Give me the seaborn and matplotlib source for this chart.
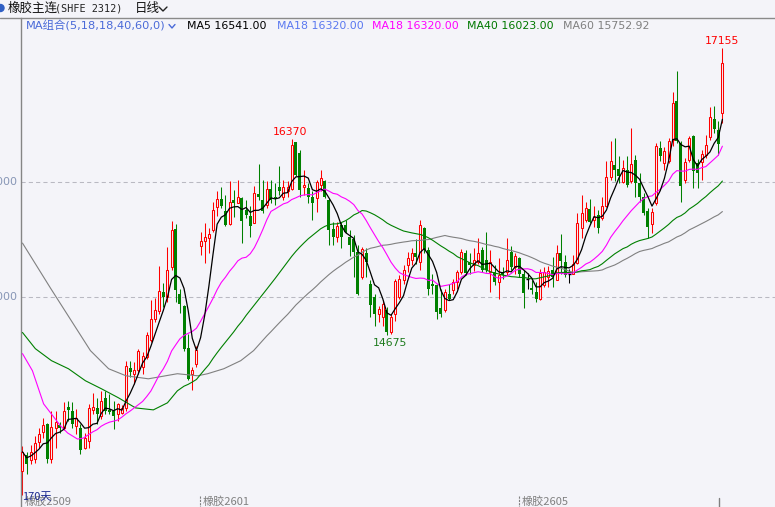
import numpy as np
import pandas as pd
import matplotlib
matplotlib.use("Agg")
import matplotlib.pyplot as plt
import seaborn as sns
from matplotlib.lines import Line2D
from matplotlib.patches import Ellipse

# ---------------- data ----------------
opens = [13494, 13633, 13593, 13596, 13749, 13836, 13906, 13596, 13871, 13894,
         13871, 14051, 14016, 13885, 13871, 13697, 13755, 14022, 14045, 13973,
         14132, 14028, 14016, 13987, 14002, 14039, 14387, 14335, 14370, 14393,
         14480, 14631, 14813, 14880, 15045, 15002, 15263, 15591, 15031, 14921,
         14561, 14335, 14422, 15443, 15489, 15515, 15582, 15779, 15855, 15750,
         15634, 15843, 15820, 15858, 15756, 15704, 15646, 15895, 15843, 15799,
         15936, 15866, 15959, 15872, 15916, 15936, 16342, 16249, 15953, 15944,
         15872, 15858, 15974, 16003, 15843, 15588, 15518, 15626, 15626, 15524,
         15501, 15394, 15176, 15385, 15118, 15002, 14857, 14828, 14886, 14698,
         14857, 15002, 15147, 15278, 15321, 15385, 15307, 15597, 15408, 15118,
         15104, 14909, 14886, 15025, 15060, 15133, 15220, 15385, 15307, 15278,
         15307, 15408, 15321, 15220, 15220, 15133, 15220, 15220, 15394, 15263,
         15336, 15199, 15160, 15083, 15043, 14985, 15104, 15176, 15234, 15153,
         15379, 15307, 15205, 15205, 15298, 15597, 15669, 15762, 15669, 15713,
         15684, 15791, 16040, 16148, 16110, 15994, 16104, 16003, 16191, 15988,
         15872, 15751, 15634, 15814, 16293, 16162, 16177, 16365, 16699, 16336,
         16017, 16191, 16394, 16162, 16168, 16235, 16388, 16545, 16452, 16597]
highs = [13712, 13662, 13720, 13799, 13865, 13952, 13915, 14016, 14016, 13923,
         14097, 14103, 14097, 14031, 13900, 13828, 14074, 14173, 14132, 14190,
         14190, 14161, 14103, 14088, 14068, 14451, 14451, 14437, 14552, 14529,
         14698, 14973, 14996, 15275, 15124, 15437, 15663, 15634, 15075, 14930,
         14683, 14393, 14581, 15568, 15640, 15597, 15829, 15916, 15953, 15887,
         16003, 15930, 16011, 15872, 15843, 15791, 15965, 16156, 16011, 16003,
         16017, 15988, 16133, 16011, 16003, 16370, 16345, 16278, 16104, 15988,
         15916, 16017, 16104, 16017, 15858, 15655, 15655, 15655, 15669, 15582,
         15539, 15452, 15437, 15423, 15147, 15031, 14921, 14973, 14915, 14857,
         15162, 15191, 15278, 15394, 15423, 15501, 15669, 15611, 15437, 15205,
         15118, 15075, 15075, 15118, 15162, 15240, 15414, 15408, 15379, 15423,
         15510, 15437, 15568, 15408, 15278, 15336, 15263, 15510, 15443, 15379,
         15350, 15234, 15211, 15147, 15133, 15249, 15263, 15269, 15350, 15452,
         15547, 15365, 15249, 15365, 15727, 15886, 15829, 15849, 15791, 15756,
         15866, 16177, 16351, 16380, 16226, 16191, 16220, 16467, 16235, 16075,
         15901, 15771, 15771, 16336, 16351, 16301, 16380, 16777, 16960, 16351,
         16206, 16394, 16409, 16197, 16278, 16409, 16649, 16655, 16525, 17155]
lows = [13291, 13471, 13552, 13567, 13697, 13784, 13567, 13567, 13697, 13828,
        13848, 13929, 13871, 13813, 13645, 13683, 13697, 13987, 13900, 13944,
        13987, 13987, 13857, 13929, 13987, 14016, 14306, 14248, 14335, 14335,
        14466, 14610, 14784, 14857, 14915, 14958, 15234, 14958, 14863, 14538,
        14283, 14196, 14393, 15364, 15298, 15379, 15568, 15704, 15771, 15617,
        15626, 15698, 15814, 15472, 15684, 15518, 15640, 15843, 15727, 15771,
        15814, 15800, 15887, 15843, 15872, 15930, 16046, 15872, 15887, 15814,
        15669, 15742, 15916, 15858, 15452, 15452, 15481, 15423, 15553, 15356,
        15176, 15017, 15162, 15176, 14828, 14755, 14784, 14747, 14675, 14680,
        14793, 14988, 15118, 15220, 15278, 15292, 15234, 15379, 15017, 15031,
        14813, 14828, 14871, 14973, 15031, 15075, 15199, 15191, 15205, 15228,
        15292, 15220, 15220, 15046, 15104, 14982, 15162, 15191, 15234, 15205,
        15176, 14909, 15075, 15031, 14958, 14979, 15089, 15089, 15089, 15147,
        15205, 15176, 15124, 15199, 15286, 15510, 15655, 15640, 15611, 15553,
        15669, 15785, 16017, 16003, 15988, 15988, 15953, 15988, 15872, 15829,
        15713, 15510, 15559, 15800, 16177, 16104, 16162, 16307, 16336, 15829,
        15988, 16168, 15945, 15945, 16017, 16206, 16365, 16423, 16235, 16510]
closes = [13662, 13558, 13656, 13738, 13813, 13891, 13596, 13880, 13923, 13871,
          14016, 14022, 13900, 13952, 13674, 13784, 14045, 14051, 13987, 14103,
          14016, 14010, 13973, 14074, 14039, 14408, 14350, 14370, 14532, 14495,
          14669, 14813, 14892, 15054, 15002, 15240, 15582, 15066, 14944, 14553,
          14291, 14370, 14544, 15489, 15524, 15544, 15756, 15852, 15791, 15626,
          15829, 15814, 15866, 15663, 15713, 15617, 15901, 15872, 15750, 15936,
          15843, 15858, 15916, 15953, 15959, 16322, 16061, 15930, 15974, 15872,
          15820, 15994, 16032, 15872, 15582, 15518, 15617, 15518, 15568, 15452,
          15394, 15031, 15414, 15307, 14930, 14857, 14900, 14938, 14698, 14828,
          15141, 15162, 15240, 15336, 15385, 15350, 15626, 15408, 15075, 15095,
          14871, 14857, 15046, 14988, 15133, 15220, 15394, 15211, 15278, 15321,
          15379, 15234, 15234, 15307, 15133, 15191, 15191, 15321, 15263, 15359,
          15205, 15037, 15160, 15060, 14985, 15211, 15220, 15228, 15176, 15385,
          15315, 15191, 15205, 15292, 15646, 15727, 15771, 15655, 15692, 15597,
          15791, 16040, 16177, 16104, 16046, 16119, 15974, 16156, 15988, 15872,
          15733, 15611, 15742, 16313, 16220, 16264, 16351, 16678, 16351, 15965,
          16168, 16380, 16090, 16075, 16243, 16322, 16562, 16460, 16330, 17030]

# moving-average values read off the picture where the window reaches back
# before the first visible day (earlier history is not shown)
ma18_early_x = [0, 2.4, 5.1, 9.2, 10.9, 13.3, 14.7]
ma18_early_y = [14512, 14364, 14077, 13886, 13825, 13772, 13781]
ma40_early_x = [0, 3.1, 7, 11.1, 15.2, 19.1, 23.2, 27.3, 31.6, 35, 37.4]
ma40_early_y = [14695, 14555, 14451, 14381, 14277, 14207, 14129, 14042, 14025, 14086, 14190]
ma60_early_x = [0, 6.8, 16.4, 20.8, 25, 30.4, 37.4, 42.3, 44.7, 48.6, 52.7, 55.8]
ma60_early_y = [15469, 15077, 14538, 14381, 14320, 14294, 14338, 14320, 14338, 14381, 14451, 14538]

grid_levels = [15000, 16000]
grid_labels = ["15000", "16000"]
contract_labels = ["橡胶2509", "橡胶2601", "橡胶2605"]
ma_titles = ["MA5 16541.00", "MA18 16320.00", "MA18 16320.00", "MA40 16023.00", "MA60 15752.92"]
peak_hi, peak_lo, last_hi = "16370", "14675", "17155"

# ---------------- style ----------------
BG = "#f4f4f9"
RED = "#ff0000"
GREEN = "#008000"
sns.set_theme(style="white", rc={"axes.facecolor": BG, "figure.facecolor": BG})
plt.rcParams["font.family"] = ["DejaVu Sans", "Noto Sans CJK SC"]
CJK = ["Noto Sans CJK SC", "DejaVu Sans"]

W, H = 775, 507
fig = plt.figure(figsize=(W / 100, H / 100), dpi=100, facecolor=BG)
ax = fig.add_axes([21 / W, 0, (W - 21) / W, (H - 18) / H])
ax.set_facecolor(BG)

n = len(closes)
idx = np.arange(n)
O = np.array(opens, float)
Hh = np.array(highs, float)
L = np.array(lows, float)
C = np.array(closes, float)
up = C > O
dn = C < O
eq = C == O

px_per = 4.142
wick_cols = np.where(up, RED, np.where(dn, GREEN, "#000000"))
ax.vlines(idx, L, Hh, colors=wick_cols, lw=0.75, zorder=2)
ax.bar(idx[up], (C - O)[up], bottom=O[up], width=2.0 / px_per,
       facecolor=BG, edgecolor=RED, lw=0.75, zorder=3)
ax.bar(idx[dn], (O - C)[dn], bottom=C[dn], width=3.0 / px_per,
       color=GREEN, lw=0, zorder=3)
ax.hlines(C[eq], idx[eq] - 1.5 / px_per, idx[eq] + 1.5 / px_per,
          colors="#000000", lw=1.0, zorder=3)

# moving averages: computed from closes once the window is filled,
# read values before that
cs = pd.Series(closes, dtype=float)


def ma_line(win, ex, ey):
    m = cs.rolling(win).mean()
    ok = m.notna().values
    xs = list(ex) + list(idx[ok])
    ys = list(ey) + list(m.values[ok])
    return np.array(xs, float), np.array(ys, float)


ma5 = cs.rolling(5, min_periods=1).mean()
x60, y60 = ma_line(60, ma60_early_x, ma60_early_y)
x40, y40 = ma_line(40, ma40_early_x, ma40_early_y)
x18, y18 = ma_line(18, ma18_early_x, ma18_early_y)
sns.lineplot(x=x60, y=y60, color="#808080", lw=0.8, ax=ax, zorder=4, sort=False)
sns.lineplot(x=x40, y=y40, color=GREEN, lw=0.8, ax=ax, zorder=4, sort=False)
sns.lineplot(x=x18, y=y18, color="#ff00ff", lw=0.8, ax=ax, zorder=4, sort=False)
sns.lineplot(x=idx, y=ma5.values, color="black", lw=0.9, ax=ax, zorder=5)

for lv in grid_levels:
    ax.axhline(lv, color="#b9b9c2", lw=0.75, ls=(0, (4, 3)), zorder=1)

ax.set_xlim(-0.36, 181.7)
ax.set_ylim(13184, 17418)
ax.set_xticks([])
ax.set_yticks([])
ax.set_xlabel("")
ax.set_ylabel("")
for s in ["top", "right", "bottom"]:
    ax.spines[s].set_visible(False)
ax.spines["left"].set_color("#858585")
ax.spines["left"].set_linewidth(1.0)

# annotations
ax.annotate(peak_hi, xy=(65, 16370), xytext=(-1, 1.5), textcoords="offset points",
            ha="center", va="bottom", color=RED, fontsize=7.8)
ax.annotate(peak_lo, xy=(88, 14675), xytext=(2.5, -2), textcoords="offset points",
            ha="center", va="top", color="#1d7a1d", fontsize=7.8)
ax.annotate(last_hi, xy=(169, 17155), xytext=(0, 1.5), textcoords="offset points",
            ha="center", va="bottom", color=RED, fontsize=7.8)


def ftext(x, y, s, **kw):
    kw.setdefault("va", "center")
    return fig.text(x / W, 1 - y / H, s, **kw)


def fline(xs, ys, **kw):
    fig.add_artist(Line2D([x / W for x in xs], [1 - y / H for y in ys],
                          transform=fig.transFigure, **kw))


# y labels (cut off at the left edge, as in the reference)
for lv, lab in zip(grid_levels, grid_labels):
    ypix = 18 + (17418 - lv) / (17418 - 13184) * (H - 18)
    ftext(18, ypix, lab, ha="right", color="#8796b6", fontsize=8)

# header row 1
fig.add_artist(Ellipse((0.5 / W, 1 - 8 / H), 7 / W, 7 / H, color="#2f5fc4",
                       transform=fig.transFigure))
ftext(8, 8.5, "橡胶主连", family=CJK, fontsize=9, color="#111111")
ftext(55, 8.5, "(SHFE 2312)", family=["DejaVu Sans Mono"], fontsize=7.3, color="#222222")
ftext(135, 8.5, "日线", family=CJK, fontsize=9, color="#111111")
fline([159, 163, 167], [7, 11, 7], color="#222222", lw=1.0)
fline([0, W], [18.3, 18.3], color="#8a8a8a", lw=1.0)

# header row 2 (MA legend)
ftext(26, 26, "MA组合(5,18,18,40,60,0)", fontsize=8.2, color="#4a6ad8")
fline([169, 172, 175], [24.5, 28, 24.5], color="#4a6ad8", lw=1.0)
ma_cols = ["#000000", "#5a78f0", "#ff00ff", "#007800", "#808080"]
ma_xs = [187, 277, 372, 467, 563]
for t, c, x in zip(ma_titles, ma_cols, ma_xs):
    ftext(x, 26, t, fontsize=7.9, color=c)

# bottom contract labels
ftext(25, 501, contract_labels[0], family=CJK, fontsize=8, color="#808080")
ftext(22, 497.5, "170天", family=CJK, fontsize=8, color="#1c2a90")
ftext(203, 501, contract_labels[1], family=CJK, fontsize=8, color="#808080")
ftext(522, 501, contract_labels[2], family=CJK, fontsize=8, color="#808080")
for xm in [200, 519]:
    fline([xm, xm], [496, 507], color="#808080", lw=0.8, ls=(0, (2, 1)))
fline([718.5, 718.5], [498, 507], color="#808080", lw=1.0)

fig.savefig("out.png", dpi=100, facecolor=BG)
